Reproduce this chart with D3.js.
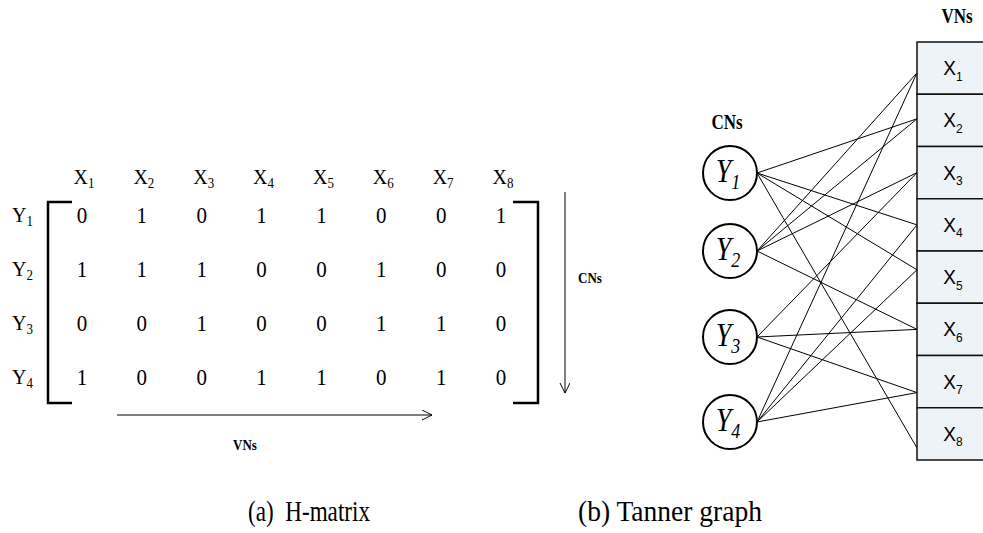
<!DOCTYPE html>
<html lang="en">
  <head>
    <meta charset="UTF-8" />
    <title>H-matrix and Tanner graph</title>
    <script src="https://cdn.jsdelivr.net/npm/d3@7"></script>
    <style>
      body {
        margin: 0;
        background: #fff;
      }
      .serif {
        font-family: "Liberation Serif", "Times New Roman", serif;
      }
      .sans {
        font-family: "Liberation Sans", Arial, sans-serif;
      }
      .bold {
        font-weight: bold;
      }
    </style>
  </head>
  <body>
    <div class="svg-container"></div>
    <script>
      // parity check matrix, rows = check nodes, cols = variable nodes
      const H = [
        [0, 1, 0, 1, 1, 0, 0, 1],
        [1, 1, 1, 0, 0, 1, 0, 0],
        [0, 0, 1, 0, 0, 1, 1, 0],
        [1, 0, 0, 1, 1, 0, 1, 0]
      ];
      const varNodes = ["1", "2", "3", "4", "5", "6", "7", "8"];
      const checkNodes = ["1", "2", "3", "4"];
      const captions = ["(a)\u00a0 H-matrix", "(b) Tanner graph"];
      const axisNames = { vn: "VNs", cn: "CNs" };

      var width = 983,
        height = 533;

      // the source text is a bit taller than wide, so stretch it vertically
      const place = (x, y, sy) =>
        "translate(" + x + "," + y + ") scale(1," + sy + ")";

      var svg = d3
        .select(".svg-container")
        .append("svg")
        .attr("width", width)
        .attr("height", height);

      // open arrow head
      svg
        .append("defs")
        .append("marker")
        .attr("id", "arrow")
        .attr("markerUnits", "userSpaceOnUse")
        .attr("markerWidth", 12)
        .attr("markerHeight", 12)
        .attr("refX", 10)
        .attr("refY", 5)
        .attr("orient", "auto")
        .append("path")
        .attr("d", "M0,0 L10,5 L0,10")
        .attr("fill", "none")
        .attr("stroke", "#000")
        .attr("stroke-width", 1);

      // ---------- (a) H-matrix ----------
      var colX = d3.scaleLinear().domain([0, 7]).range([82, 501]);
      var rowY = d3.scaleLinear().domain([0, 3]).range([223, 385]);

      var mat = svg.append("g").attr("class", "serif");

      // column headers
      var head = mat
        .selectAll(".colhead")
        .data(varNodes)
        .enter()
        .append("text")
        .attr("class", "colhead")
        .attr("transform", (d, i) => place(colX(i) + 2, 184, 1.1))
        .attr("text-anchor", "middle")
        .style("font-size", "20px");
      head.append("tspan").text("X");
      head
        .append("tspan")
        .attr("dy", 4)
        .style("font-size", "13px")
        .text((d) => d);

      // row headers
      var rhead = mat
        .selectAll(".rowhead")
        .data(checkNodes)
        .enter()
        .append("text")
        .attr("class", "rowhead")
        .attr("transform", (d, i) => place(12, rowY(i) - 1, 1.1))
        .style("font-size", "20px");
      rhead.append("tspan").text("Y");
      rhead
        .append("tspan")
        .attr("dy", 4)
        .style("font-size", "13px")
        .text((d) => d);

      // matrix cells
      H.forEach((row, i) => {
        mat
          .selectAll(".cell" + i)
          .data(row)
          .enter()
          .append("text")
          .attr("transform", (d, j) => place(colX(j), rowY(i), 1.12))
          .attr("text-anchor", "middle")
          .style("font-size", "21px")
          .text((d) => d);
      });

      // brackets
      var bTop = 202,
        bBot = 403;
      mat
        .append("path")
        .attr("d", "M72," + bTop + " H48 V" + bBot + " H72")
        .attr("fill", "none")
        .attr("stroke", "#000")
        .attr("stroke-width", 2.5);
      mat
        .append("path")
        .attr("d", "M513," + bTop + " H538 V" + bBot + " H513")
        .attr("fill", "none")
        .attr("stroke", "#000")
        .attr("stroke-width", 2.5);

      // direction arrows
      mat
        .append("line")
        .attr("x1", 117)
        .attr("x2", 432)
        .attr("y1", 415)
        .attr("y2", 415)
        .attr("stroke", "#000")
        .attr("stroke-width", 1)
        .attr("marker-end", "url(#arrow)");
      mat
        .append("line")
        .attr("x1", 565)
        .attr("x2", 565)
        .attr("y1", 192)
        .attr("y2", 393)
        .attr("stroke", "#000")
        .attr("stroke-width", 1)
        .attr("marker-end", "url(#arrow)");

      mat
        .append("text")
        .attr("class", "bold")
        .attr("transform", place(245, 450, 1.15))
        .attr("text-anchor", "middle")
        .style("font-size", "13px")
        .text(axisNames.vn);
      mat
        .append("text")
        .attr("class", "bold")
        .attr("transform", place(590, 283, 1.15))
        .attr("text-anchor", "middle")
        .style("font-size", "13px")
        .text(axisNames.cn);

      // ---------- (b) Tanner graph ----------
      var cnX = 730,
        cnR = 27,
        boxX = 917;
      var cnY = d3.scaleLinear().domain([0, 1, 2, 3]).range([173, 251, 337, 422]);
      var vnY = d3.scaleBand().domain(d3.range(8)).range([42, 460]);
      // where on each box the edges land (fraction of box height)
      var anchor = [0.59, 0.47, 0.5, 0.5, 0.36, 0.5, 0.71, 0.77];

      var tg = svg.append("g");

      var edges = [];
      H.forEach((row, i) =>
        row.forEach((v, j) => {
          if (v === 1) edges.push({ cn: i, vn: j });
        })
      );

      tg.selectAll(".edge")
        .data(edges)
        .enter()
        .append("line")
        .attr("class", "edge")
        .attr("x1", cnX + cnR)
        .attr("y1", (d) => cnY(d.cn))
        .attr("x2", boxX)
        .attr("y2", (d) => vnY(d.vn) + vnY.bandwidth() * anchor[d.vn])
        .attr("stroke", "#000")
        .attr("stroke-width", 1);

      // variable node boxes
      var vn = tg
        .selectAll(".vn")
        .data(varNodes)
        .enter()
        .append("g")
        .attr("class", "vn");
      vn.append("rect")
        .attr("x", boxX)
        .attr("y", (d, i) => vnY(i))
        .attr("width", 80)
        .attr("height", vnY.bandwidth())
        .attr("fill", "#eef3f8")
        .attr("stroke", "#111")
        .attr("stroke-width", 1.5);
      var vt = vn
        .append("text")
        .attr("class", "sans")
        .attr("transform", (d, i) =>
          place(953, vnY(i) + vnY.bandwidth() / 2 + 7, 1.1)
        )
        .attr("text-anchor", "middle")
        .style("font-size", "19px");
      vt.append("tspan").text("X");
      vt.append("tspan")
        .attr("dy", 5)
        .style("font-size", "12px")
        .text((d) => d);

      // check node circles
      var cn = tg
        .selectAll(".cn")
        .data(checkNodes)
        .enter()
        .append("g")
        .attr("class", "cn");
      cn.append("circle")
        .attr("cx", cnX)
        .attr("cy", (d, i) => cnY(i))
        .attr("r", cnR)
        .attr("fill", "#fff")
        .attr("stroke", "#000")
        .attr("stroke-width", 2);
      var ct = cn
        .append("text")
        .attr("class", "serif")
        .attr("transform", (d, i) => place(cnX - 2, cnY(i) + 9, 1.2))
        .attr("text-anchor", "middle")
        .style("font-style", "italic")
        .style("font-size", "28px");
      ct.append("tspan").text("Y");
      ct.append("tspan")
        .attr("dy", 6)
        .style("font-size", "18px")
        .text((d) => d);

      tg.append("text")
        .attr("class", "serif bold")
        .attr("transform", place(727, 129, 1.2))
        .attr("text-anchor", "middle")
        .style("font-size", "17px")
        .text(axisNames.cn);
      tg.append("text")
        .attr("class", "serif bold")
        .attr("transform", place(957, 23, 1.2))
        .attr("text-anchor", "middle")
        .style("font-size", "17px")
        .text(axisNames.vn);

      // captions
      var capStart = [248, 578],
        capLen = [122, 184];
      svg
        .selectAll(".caption")
        .data(captions)
        .enter()
        .append("text")
        .attr("class", "caption serif")
        .attr("transform", (d, i) => place(capStart[i], 521, 1.15))
        .attr("textLength", (d, i) => capLen[i])
        .attr("lengthAdjust", "spacingAndGlyphs")
        .style("font-size", "26px")
        .text((d) => d);
    </script>
  </body>
</html>
